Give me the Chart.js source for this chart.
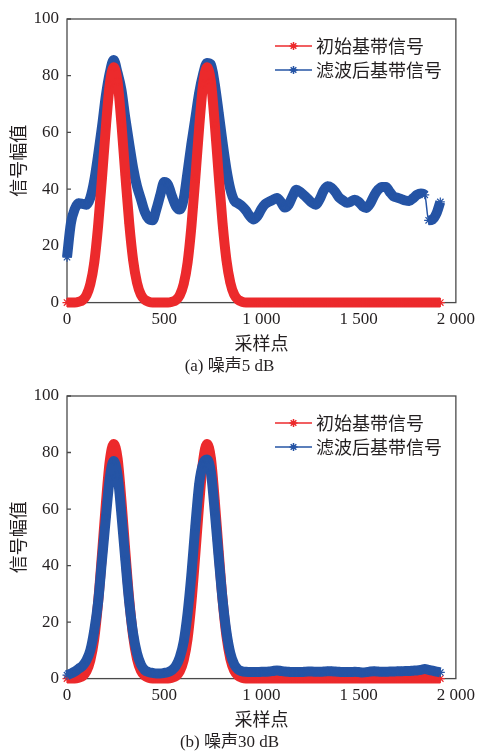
<!DOCTYPE html>
<html>
<head>
<meta charset="utf-8">
<script src="https://cdn.jsdelivr.net/npm/chart.js@4.4.1/dist/chart.umd.min.js"></script>
<style>
  body { margin: 0; background: #fff; }
  canvas { display: block; }
</style>
</head>
<body>
<canvas id="chartA" width="482" height="377"></canvas>
<canvas id="chartB" width="482" height="376"></canvas>
<script>
// sample index of each read-off point
const sampleIdx = [
  0, 20, 40, 60, 80, 100, 120, 140, 160, 180, 200, 220, 240, 260, 280, 300, 320, 340, 360, 380,
  400, 420, 440, 460, 480, 500, 520, 540, 560, 580, 600, 620, 640, 660, 680, 700, 720, 740, 760, 780,
  800, 820, 840, 860, 880, 900, 920, 940, 960, 980, 1000, 1020, 1040, 1060, 1080, 1100, 1120, 1140, 1160, 1180,
  1200, 1220, 1240, 1260, 1280, 1300, 1320, 1340, 1360, 1380, 1400, 1420, 1440, 1460, 1480, 1500, 1520, 1540, 1560, 1580,
  1600, 1620, 1640, 1660, 1680, 1700, 1720, 1740, 1760, 1780, 1800, 1820, 1840, 1860, 1880, 1900, 1920
];

// 初始基带信号 (same in both panels)
const initialSignal = [
  0, 0, 0, 0.3, 0.9, 2.6, 6.5, 14, 27, 44, 62, 77, 83, 78, 63, 45, 28, 15, 7, 2.8,
  1, 0.3, 0, 0, 0, 0, 0, 0.3, 0.9, 2.6, 6.5, 14, 27, 44, 62, 77, 83, 78, 63, 45,
  28, 15, 7, 2.8, 1, 0.3, 0, 0, 0, 0, 0, 0, 0, 0, 0, 0, 0, 0, 0, 0,
  0, 0, 0, 0, 0, 0, 0, 0, 0, 0, 0, 0, 0, 0, 0, 0, 0, 0, 0, 0,
  0, 0, 0, 0, 0, 0, 0, 0, 0, 0, 0, 0, 0, 0, 0, 0, 0
];

// 滤波后基带信号, 噪声5 dB
const filtered5dB = [
  16, 28, 33, 35, 34.8, 34.5, 37, 43, 52, 62, 73, 81, 85.5, 81, 75, 65, 56, 47.5, 41, 36.5,
  32, 29.5, 29, 33, 38, 42.5, 41.5, 37.5, 34, 32.8, 36.5, 46, 56, 65, 74, 80.5, 84.5, 84, 77, 67,
  56.5, 47, 40, 36, 35, 34, 32.5, 30.5, 29.3, 30.5, 33, 34.8, 35.6, 36.3, 36.9, 35.5, 33.5, 34.5, 37.5, 39.8,
  39, 37.8, 36.5, 35.2, 34.5, 36.5, 39.5, 41, 40.5, 39, 37, 36, 35.2, 35.6, 36.3, 35.5, 34, 33.4, 35, 37.8,
  39.8, 40.8, 40.8, 39, 37.4, 37, 36.5, 36, 35.8, 36.8, 38, 38.5, 38, 29, 29.3, 31.4, 35.5
];

// 滤波后基带信号, 噪声30 dB
const filtered30dB = [
  1.2, 1.8, 2.5, 3.5, 4.5, 6.5, 10, 17, 27, 42, 57, 71, 77, 72, 58, 42, 27, 16, 9, 5,
  3, 2.3, 2, 1.8, 1.8, 2, 2.3, 3, 4.5, 7.5, 13, 23, 37, 54, 69, 76, 77.5, 73, 59, 43,
  28, 16.5, 9, 5, 3.2, 2.6, 2.4, 2.3, 2.3, 2.3, 2.4, 2.4, 2.5, 2.7, 2.9, 2.7, 2.5, 2.4, 2.3, 2.3,
  2.3, 2.4, 2.5, 2.5, 2.4, 2.4, 2.5, 2.6, 2.6, 2.5, 2.4, 2.3, 2.3, 2.3, 2.4, 2.3, 2.2, 2.3, 2.5, 2.6,
  2.5, 2.4, 2.4, 2.5, 2.5, 2.6, 2.6, 2.7, 2.7, 2.8, 2.9, 3.1, 3.4, 3.1, 2.8, 2.5, 2.2
];

const xTickLabels = ['0', '500', '1 000', '1 500', '2 000'];
const seriesNames = ['初始基带信号', '滤波后基带信号'];
const xTitle = '采样点';
const yTitle = '信号幅值';

const RED = '#ec2a2c';
const BLUE = '#2554a5';
const TEXT = '#231f20';
const SERIF = "'Liberation Serif', 'Noto Sans CJK SC', serif";
const CJK = "'Noto Sans CJK SC', sans-serif";
const BAND = 10;

const toPoints = vals => vals.map((v, i) => ({ x: sampleIdx[i], y: v }));

// box around plot area + short inward ticks on the y axis
const framePlugin = {
  id: 'frame',
  beforeDatasetsDraw(chart) {
    const { ctx, chartArea: a, scales: { y } } = chart;
    ctx.save();
    ctx.strokeStyle = '#4a4a4a';
    ctx.lineWidth = 1.3;
    ctx.strokeRect(a.left, a.top, a.right - a.left, a.bottom - a.top);
    ctx.beginPath();
    y.ticks.forEach(t => {
      const py = y.getPixelForValue(t.value);
      ctx.moveTo(a.left, py);
      ctx.lineTo(a.left + 4, py);
    });
    ctx.stroke();
    ctx.restore();
  }
};

// legend in the upper right of the plot, line + star marker + label
const cornerLegend = {
  id: 'cornerLegend',
  afterDraw(chart) {
    const { ctx, chartArea: a } = chart;
    const x0 = a.left + 208, x1 = x0 + 37;
    chart.data.datasets.forEach((ds, i) => {
      const y = a.top + 27 + i * 24;
      ctx.save();
      ctx.strokeStyle = ds.borderColor;
      ctx.lineWidth = 1.5;
      ctx.beginPath();
      ctx.moveTo(x0, y);
      ctx.lineTo(x1, y);
      ctx.stroke();
      Chart.helpers.drawPoint(ctx, { pointStyle: 'star', radius: 4, rotation: 0, borderWidth: 1.5 }, (x0 + x1) / 2, y);
      ctx.fillStyle = TEXT;
      ctx.font = '18px ' + CJK;
      ctx.textBaseline = 'middle';
      ctx.fillText(ds.label, x1 + 4, y);
      ctx.restore();
    });
  }
};

function makeChart(id, filtered, caption, filteredOnTop) {
  const style = color => ({
    borderColor: color,
    backgroundColor: color,
    borderWidth: BAND,
    pointStyle: 'star',
    pointRadius: 4.5,
    pointBorderWidth: 1.2,
    pointBorderColor: color,
    cubicInterpolationMode: 'monotone',
    clip: 12
  });
  return new Chart(document.getElementById(id), {
    type: 'line',
    data: {
      datasets: [
        { label: seriesNames[0], data: toPoints(initialSignal), order: filteredOnTop ? 1 : 0, ...style(RED) },
        {
          label: seriesNames[1], data: toPoints(filtered), order: filteredOnTop ? 0 : 1, ...style(BLUE),
          segment: {
            // thin connector where the filtered trace jumps near the end
            borderWidth: c => (c.p0.parsed.x > 1500 && Math.abs(c.p1.parsed.y - c.p0.parsed.y) > 5) ? 1.5 : BAND
          }
        }
      ]
    },
    options: {
      responsive: false,
      animation: false,
      devicePixelRatio: 1,
      layout: { padding: { top: 19, right: 23, left: 0, bottom: 0 } },
      plugins: {
        legend: { display: false },
        tooltip: { enabled: false },
        title: {
          display: true,
          position: 'bottom',
          text: caption,
          color: TEXT,
          font: { family: SERIF, size: 17, weight: 'normal' },
          padding: { top: 0, bottom: 0 }
        }
      },
      scales: {
        x: {
          type: 'linear',
          min: 0,
          max: 2000,
          grid: { display: false, drawTicks: false },
          border: { display: false },
          ticks: {
            stepSize: 500,
            padding: 7,
            maxRotation: 0,
            color: TEXT,
            font: { family: SERIF, size: 17 },
            callback: (v, i) => xTickLabels[i]
          },
          title: {
            display: true,
            text: xTitle,
            color: TEXT,
            font: { family: CJK, size: 18 },
            padding: { top: 0, bottom: 3 }
          },
          afterFit: s => { s.height = 54; }
        },
        y: {
          min: 0,
          max: 100,
          grid: { display: false, drawTicks: false },
          border: { display: false },
          ticks: {
            stepSize: 20,
            padding: 8,
            color: TEXT,
            font: { family: SERIF, size: 17 }
          },
          title: {
            display: true,
            text: yTitle,
            color: TEXT,
            font: { family: CJK, size: 18 },
            padding: { top: 7, bottom: 0 }
          },
          afterFit: s => { s.width = 67; }
        }
      }
    },
    plugins: [framePlugin, cornerLegend]
  });
}

makeChart('chartA', filtered5dB, '(a) 噪声5 dB', false);
makeChart('chartB', filtered30dB, '(b) 噪声30 dB', true);
</script>
</body>
</html>
